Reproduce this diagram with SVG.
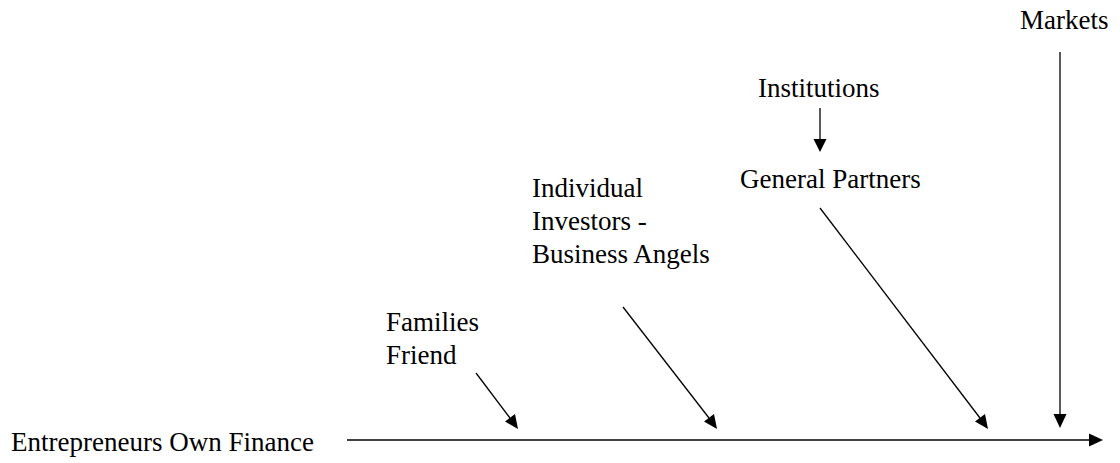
<svg xmlns="http://www.w3.org/2000/svg" width="1120" height="463" viewBox="0 0 1120 463">
<style>
.t{font-family:"Liberation Serif","Times New Roman",serif;font-size:27px;fill:#000000}
.c{stroke:#000000;stroke-width:1.3;fill:none}
.h{fill:#000000;stroke:none}
</style>
<rect width="1120" height="463" fill="#ffffff"/>
<g id="own" class="t"><text x="11" y="451">Entrepreneurs Own Finance</text></g>
<g id="families" class="t"><text x="386" y="331">Families</text><text x="386" y="364">Friend</text></g>
<g id="individual" class="t"><text x="532" y="197">Individual</text><text x="532" y="230">Investors -</text><text x="532" y="263">Business Angels</text></g>
<g id="institutions" class="t"><text x="758" y="97">Institutions</text></g>
<g id="general" class="t"><text x="740" y="188">General Partners</text></g>
<g id="markets" class="t"><text x="1020" y="29">Markets</text></g>
<g id="connectors">
<line class="c" x1="347" y1="440" x2="1089" y2="440"/>
<polygon class="h" points="1103,440 1089,433.5 1089,446.5"/>
<line class="c" x1="476" y1="373" x2="510" y2="418"/>
<polygon class="h" points="518,429 505,421.5 515,414"/>
<line class="c" x1="623" y1="307" x2="709" y2="418"/>
<polygon class="h" points="717,429 704,421.5 714,414"/>
<line class="c" x1="820" y1="208" x2="980" y2="418"/>
<polygon class="h" points="988,429 975,421.5 985,414"/>
<line class="c" x1="1060" y1="52" x2="1060" y2="414"/>
<polygon class="h" points="1060,428 1053.5,414 1066.5,414"/>
<line class="c" x1="820" y1="108" x2="820" y2="139"/>
<polygon class="h" points="820,152 813.5,139 826.5,139"/>
</g>
</svg>
